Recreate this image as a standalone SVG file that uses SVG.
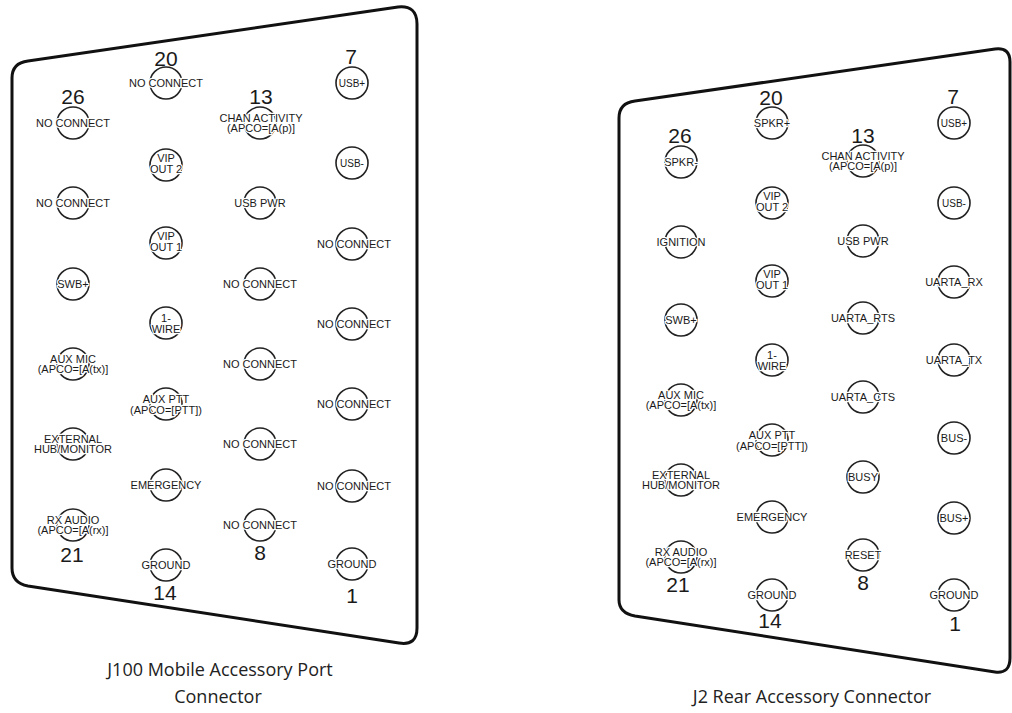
<svg xmlns="http://www.w3.org/2000/svg" width="1012" height="713" viewBox="0 0 1012 713">
<style>
.outline{fill:#fff;stroke:#111;stroke-width:3;stroke-linejoin:round}
.pin circle{fill:none;stroke:#222;stroke-width:1.6}
.pin text{font-family:"Liberation Sans",Arial,sans-serif;font-size:11px;fill:#1a1a1a;text-anchor:middle;stroke:#fff;stroke-width:2.5;paint-order:stroke;stroke-linejoin:round}
.pin text.sm{font-size:10px}
.num{font-family:"Liberation Sans",Arial,sans-serif;font-size:21px;fill:#1a1a1a;text-anchor:middle}
.cap{font-family:"Open Sans","Noto Sans",sans-serif;font-size:18px;fill:#222;text-anchor:middle}
</style>
<rect width="1012" height="713" fill="#fff"/>

<g id="j100">
<path class="outline" d="M12,78 Q12,63 28,61 L398,7 Q417,5 417,24 L417,628 Q417,646 399,643 L28,586 Q12,583 12,568 Z"/>
<g id="j100-pin26" class="pin"><circle cx="73" cy="123" r="16"/><text x="73" y="127">NO CONNECT</text></g>
<g id="j100-c1r2" class="pin"><circle cx="73" cy="203" r="16"/><text x="73" y="207">NO CONNECT</text></g>
<g id="j100-c1r3" class="pin"><circle cx="73" cy="284" r="16"/><text x="73" y="288">SWB+</text></g>
<g id="j100-c1r4" class="pin"><circle cx="73" cy="364" r="16"/><text x="73" y="363">AUX MIC</text><text x="73" y="373">(APCO=[A(tx)]</text></g>
<g id="j100-c1r5" class="pin"><circle cx="73" cy="444" r="16"/><text x="73" y="443">EXTERNAL</text><text x="73" y="453">HUB/MONITOR</text></g>
<g id="j100-pin21" class="pin"><circle cx="73" cy="525" r="16"/><text x="73" y="524">RX AUDIO</text><text x="73" y="534">(APCO=[A(rx)]</text></g>

<g id="j100-pin20" class="pin"><circle cx="166" cy="83" r="16"/><text x="166" y="87">NO CONNECT</text></g>
<g id="j100-c2r2" class="pin"><circle cx="166" cy="165" r="16"/><text x="166" y="162">VIP</text><text x="166" y="173">OUT 2</text></g>
<g id="j100-c2r3" class="pin"><circle cx="166" cy="243" r="16"/><text x="166" y="240">VIP</text><text x="166" y="251">OUT 1</text></g>
<g id="j100-c2r4" class="pin"><circle cx="166" cy="323" r="16"/><text x="166" y="322">1-</text><text x="166" y="333">WIRE</text></g>
<g id="j100-c2r5" class="pin"><circle cx="166" cy="404" r="16"/><text x="166" y="403">AUX PTT</text><text x="166" y="414">(APCO=[PTT])</text></g>
<g id="j100-c2r6" class="pin"><circle cx="166" cy="485" r="16"/><text x="166" y="489">EMERGENCY</text></g>
<g id="j100-pin14" class="pin"><circle cx="166" cy="565" r="16"/><text x="166" y="569">GROUND</text></g>

<g id="j100-pin13" class="pin"><circle cx="260" cy="123" r="16"/><text x="261" y="122">CHAN ACTIVITY</text><text x="261" y="132">(APCO=[A(p)]</text></g>
<g id="j100-c3r2" class="pin"><circle cx="260" cy="203" r="16"/><text x="260" y="207">USB PWR</text></g>
<g id="j100-c3r3" class="pin"><circle cx="260" cy="284" r="16"/><text x="260" y="288">NO CONNECT</text></g>
<g id="j100-c3r4" class="pin"><circle cx="260" cy="364" r="16"/><text x="260" y="368">NO CONNECT</text></g>
<g id="j100-c3r5" class="pin"><circle cx="260" cy="444" r="16"/><text x="260" y="448">NO CONNECT</text></g>
<g id="j100-pin8" class="pin"><circle cx="260" cy="525" r="16"/><text x="260" y="529">NO CONNECT</text></g>

<g id="j100-pin7" class="pin"><circle cx="352" cy="83" r="16"/><text class="sm" x="352" y="87">USB+</text></g>
<g id="j100-c4r2" class="pin"><circle cx="352" cy="163" r="16"/><text class="sm" x="352" y="167">USB-</text></g>
<g id="j100-c4r3" class="pin"><circle cx="352" cy="244" r="16"/><text x="354" y="248">NO CONNECT</text></g>
<g id="j100-c4r4" class="pin"><circle cx="352" cy="324" r="16"/><text x="354" y="328">NO CONNECT</text></g>
<g id="j100-c4r5" class="pin"><circle cx="352" cy="404" r="16"/><text x="354" y="408">NO CONNECT</text></g>
<g id="j100-c4r6" class="pin"><circle cx="352" cy="486" r="16"/><text x="354" y="490">NO CONNECT</text></g>
<g id="j100-pin1" class="pin"><circle cx="352" cy="564" r="16"/><text x="352" y="568">GROUND</text></g>

<text class="num" x="166" y="66">20</text>
<text class="num" x="73" y="104">26</text>
<text class="num" x="261" y="104">13</text>
<text class="num" x="351" y="64">7</text>
<text class="num" x="72" y="562">21</text>
<text class="num" x="165" y="600">14</text>
<text class="num" x="260" y="560">8</text>
<text class="num" x="352" y="603">1</text>
<text class="cap" x="220" y="676">J100 Mobile Accessory Port</text>
<text class="cap" x="218" y="703">Connector</text>
</g>

<g id="j2">
<path class="outline" d="M619,118 Q619,103 635,101 L995,49 Q1010,47 1010,62 L1010,658 Q1010,674 995,672 L635,616 Q619,613 619,600 Z"/>
<g id="j2-pin26" class="pin"><circle cx="681" cy="162" r="16"/><text x="681" y="166">SPKR-</text></g>
<g id="j2-c1r2" class="pin"><circle cx="681" cy="242" r="16"/><text x="681" y="246">IGNITION</text></g>
<g id="j2-c1r3" class="pin"><circle cx="681" cy="320" r="16"/><text x="681" y="324">SWB+</text></g>
<g id="j2-c1r4" class="pin"><circle cx="681" cy="400" r="16"/><text x="681" y="399">AUX MIC</text><text x="681" y="409">(APCO=[A(tx)]</text></g>
<g id="j2-c1r5" class="pin"><circle cx="681" cy="480" r="16"/><text x="681" y="479">EXTERNAL</text><text x="681" y="489">HUB/MONITOR</text></g>
<g id="j2-pin21" class="pin"><circle cx="681" cy="557" r="16"/><text x="681" y="556">RX AUDIO</text><text x="681" y="566">(APCO=[A(rx)]</text></g>

<g id="j2-pin20" class="pin"><circle cx="772" cy="123" r="16"/><text x="772" y="127">SPKR+</text></g>
<g id="j2-c2r2" class="pin"><circle cx="772" cy="203" r="16"/><text x="772" y="200">VIP</text><text x="772" y="211">OUT 2</text></g>
<g id="j2-c2r3" class="pin"><circle cx="772" cy="281" r="16"/><text x="772" y="278">VIP</text><text x="772" y="289">OUT 1</text></g>
<g id="j2-c2r4" class="pin"><circle cx="772" cy="360" r="16"/><text x="772" y="359">1-</text><text x="772" y="370">WIRE</text></g>
<g id="j2-c2r5" class="pin"><circle cx="772" cy="440" r="16"/><text x="772" y="439">AUX PTT</text><text x="772" y="450">(APCO=[PTT])</text></g>
<g id="j2-c2r6" class="pin"><circle cx="772" cy="517" r="16"/><text x="772" y="521">EMERGENCY</text></g>
<g id="j2-pin14" class="pin"><circle cx="772" cy="595" r="16"/><text x="772" y="599">GROUND</text></g>

<g id="j2-pin13" class="pin"><circle cx="863" cy="161" r="16"/><text x="863" y="160">CHAN ACTIVITY</text><text x="863" y="170">(APCO=[A(p)]</text></g>
<g id="j2-c3r2" class="pin"><circle cx="863" cy="241" r="16"/><text x="863" y="245">USB PWR</text></g>
<g id="j2-c3r3" class="pin"><circle cx="863" cy="318" r="16"/><text x="863" y="322">UARTA_RTS</text></g>
<g id="j2-c3r4" class="pin"><circle cx="863" cy="397" r="16"/><text x="863" y="401">UARTA_CTS</text></g>
<g id="j2-c3r5" class="pin"><circle cx="863" cy="477" r="16"/><text x="863" y="481">BUSY</text></g>
<g id="j2-pin8" class="pin"><circle cx="863" cy="555" r="16"/><text x="863" y="559">RESET</text></g>

<g id="j2-pin7" class="pin"><circle cx="954" cy="123" r="16"/><text class="sm" x="954" y="127">USB+</text></g>
<g id="j2-c4r2" class="pin"><circle cx="954" cy="203" r="16"/><text class="sm" x="954" y="207">USB-</text></g>
<g id="j2-c4r3" class="pin"><circle cx="954" cy="282" r="16"/><text x="954" y="286">UARTA_RX</text></g>
<g id="j2-c4r4" class="pin"><circle cx="954" cy="360" r="16"/><text x="954" y="364">UARTA_TX</text></g>
<g id="j2-c4r5" class="pin"><circle cx="954" cy="438" r="16"/><text x="954" y="442">BUS-</text></g>
<g id="j2-c4r6" class="pin"><circle cx="954" cy="518" r="16"/><text x="954" y="522">BUS+</text></g>
<g id="j2-pin1" class="pin"><circle cx="954" cy="595" r="16"/><text x="954" y="599">GROUND</text></g>

<text class="num" x="680" y="143">26</text>
<text class="num" x="771" y="105">20</text>
<text class="num" x="863" y="143">13</text>
<text class="num" x="953" y="104">7</text>
<text class="num" x="678" y="592">21</text>
<text class="num" x="770" y="628">14</text>
<text class="num" x="863" y="590">8</text>
<text class="num" x="955" y="631">1</text>
<text class="cap" x="812" y="703">J2 Rear Accessory Connector</text>
</g>
</svg>
